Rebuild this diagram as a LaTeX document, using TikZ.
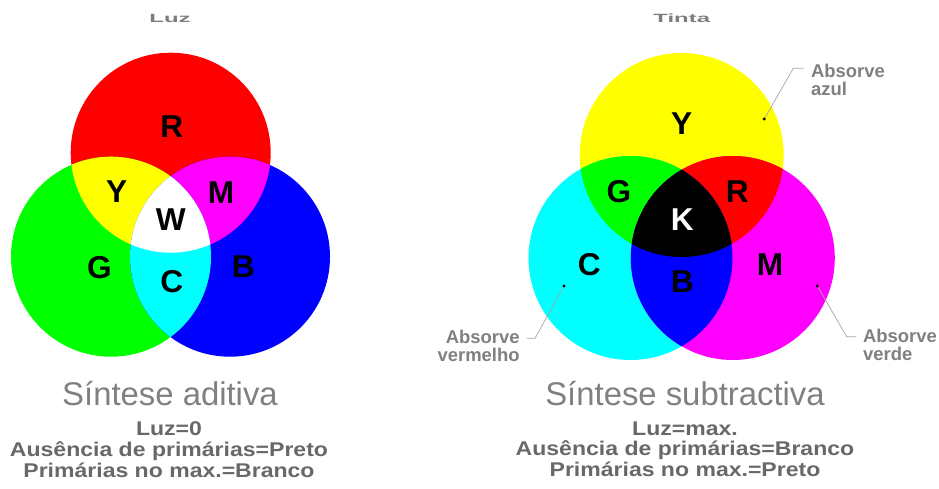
\documentclass[tikz,border=0pt]{standalone}
\usepackage{fontspec}
\setmainfont{Liberation Sans}
\newfontfamily\widefont[FakeStretch=1.16]{Liberation Sans}
\newfontfamily\titlefont[FakeStretch=2]{Liberation Sans}
\usetikzlibrary{positioning}
\usetikzlibrary{calc}

\definecolor{cR}{RGB}{255,0,0}
\definecolor{cG}{RGB}{0,255,0}
\definecolor{cB}{RGB}{0,0,255}
\definecolor{cC}{RGB}{0,255,255}
\definecolor{cM}{RGB}{255,0,255}
\definecolor{cY}{RGB}{255,255,0}
\definecolor{txtgray}{RGB}{128,128,128}
\definecolor{boldgray}{RGB}{104,104,104}
\definecolor{titlegray}{RGB}{125,125,125}
\definecolor{leadgray}{RGB}{165,165,165}

\begin{document}
\begin{tikzpicture}[x=0.02cm,y=-0.02cm,inner sep=0pt,
					letter/.style={font=\fontsize{18}{20}\selectfont\bfseries},
					title/.style={anchor=base,text=titlegray,font=\titlefont\fontsize{6.8}{7}\selectfont\bfseries},
					synth/.style={anchor=base,text=txtgray,font=\fontsize{18.7}{22}\selectfont},
					rules/.style={anchor=north,align=center,text=boldgray,font=\widefont\fontsize{11.3}{11.9}\selectfont\bfseries}]
					\tikzstyle{annot}=[text=txtgray,font=\fontsize{10.5}{10.4}\selectfont\bfseries]
					\tikzstyle{leader}=[draw=leadgray,line width=0.4pt,shorten >=4pt]
					
					\useasboundingbox (0,0) rectangle (939,489);
					
					\coordinate (lR) at (170.7,152.7);
					\coordinate (lG) at (111,256.7);
					\coordinate (lB) at (230,256.7);
					\coordinate (rY) at (681.7,155);
					\coordinate (rC) at (630.5,258);
					\coordinate (rM) at (732.8,258);
					
					\fill[cR] (lR) circle (100);
					\fill[cG] (lG) circle (100);
					\fill[cB] (lB) circle (100);
					\begin{scope}
						\clip (lR) circle (100);
						\fill[cY] (lG) circle (100);
						\fill[cM] (lB) circle (100);
					\end{scope}
					\begin{scope}
						\clip (lG) circle (100);
						\fill[cC] (lB) circle (100);
					\end{scope}
					\begin{scope}
						\clip (lR) circle (100);
						\clip (lG) circle (100);
						\fill[white] (lB) circle (100);
					\end{scope}
					
					\fill[cY] (rY) circle (102);
					\fill[cC] (rC) circle (102);
					\fill[cM] (rM) circle (102);
					\begin{scope}
						\clip (rY) circle (102);
						\fill[cG] (rC) circle (102);
						\fill[cR] (rM) circle (102);
					\end{scope}
					\begin{scope}
						\clip (rC) circle (102);
						\fill[cB] (rM) circle (102);
					\end{scope}
					\begin{scope}
						\clip (rY) circle (102);
						\clip (rC) circle (102);
						\fill[black] (rM) circle (102);
					\end{scope}
					
					\node[letter] (aR) at (171.7,126.7) {R};
					\node[letter] (aY) at (116.7,191.7) {Y};
					\node[letter] (aM) at (221,192.7)   {M};
					\node[letter] (aW) at (170.7,220)   {W};
					\node[letter] (aG) at (99.3,268)    {G};
					\node[letter] (aC) at (171.7,281.7) {C};
					\node[letter] (aB) at (243.3,266.7) {B};
					
					\node[letter] (sY) at (681.7,123.3) {Y};
					\node[letter] (sG) at (619,191.7)   {G};
					\node[letter] (sR) at (737.3,191.7) {R};
					\node[letter,text=white] (sK) at (682.3,220) {K};
					\node[letter] (sC) at (589.3,265)   {C};
					\node[letter] (sB) at (682.3,281.7) {B};
					\node[letter] (sM) at (770,265)     {M};
					
					\node[title] (luz)   at (170,22.7)   {Luz};
					\node[title] (tinta) at (681.7,22.7) {Tinta};
					
					\coordinate (dotY) at (764.3,119);
					\coordinate (dotC) at (564,286);
					\coordinate (dotM) at (817.3,286);
					\coordinate (bendY) at (793.3,68.3);
					\coordinate (bendC) at (535,338.3);
					\coordinate (bendM) at (846.7,336.7);
					
					\node[annot,anchor=north west,align=left]  (absY) at (810.7,63.3) {Absorve\\azul};
					\node[annot,anchor=north east,align=right] (absC) at (520,330)    {Absorve\\vermelho};
					\node[annot,anchor=north west,align=left]  (absM) at (862.7,328.3) {Absorve\\verde};
					
					\draw[leader] (dotY) -- (bendY) -- (bendY -| absY.west);
					\draw[leader] (dotC) -- (bendC) -- (bendC -| absC.east);
					\draw[leader] (dotM) -- (bendM) -- (bendM -| absM.west);
					\fill (dotY) circle (1.6);
					\fill (dotC) circle (1.6);
					\fill (dotM) circle (1.6);
					
					\node[synth] (adit) at (170,405) {Síntese aditiva};
					\node[synth] (subt) at (685,405) {Síntese subtractiva};
					
					\node[rules] (adrules) at (169,421) {Luz=0\\Ausência de primárias=Preto\\Primárias no max.=Branco};
					\node[rules] (sbrules) at (685,421) {Luz=max.\\Ausência de primárias=Branco\\Primárias no max.=Preto};
					\end{tikzpicture}
\end{document}
